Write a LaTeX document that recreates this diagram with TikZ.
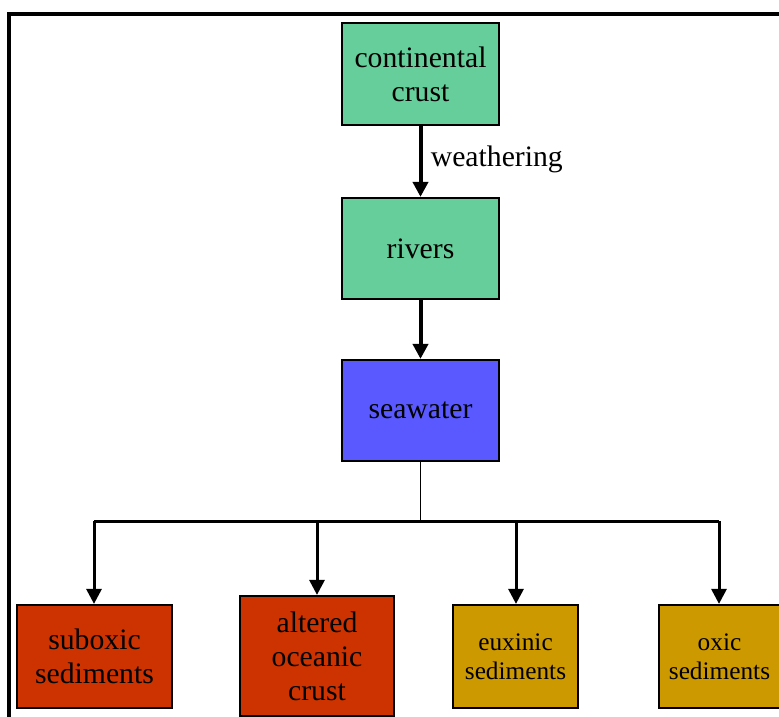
\documentclass[tikz,border=0pt]{standalone}
\usepackage{fontspec}
\setmainfont{Liberation Serif}
\usetikzlibrary{arrows.meta}
\definecolor{cgreen}{RGB}{102,206,154}
\definecolor{cblue}{RGB}{89,89,255}
\definecolor{cred}{RGB}{204,51,0}
\definecolor{cgold}{RGB}{204,153,0}
\tikzset{
  boxa/.style={draw=black, line width=2.2pt, inner sep=0pt, align=center,
    font=\fontsize{29.7pt}{34pt}\selectfont},
  boxb/.style={boxa, font=\fontsize{25.3pt}{28.5pt}\selectfont},
  tip/.style={-{Triangle[length=15pt,width=15pt]}},
  flow/.style={line width=4pt, tip},
  bus/.style={line width=3pt},
}
\begin{document}
\begin{tikzpicture}[x=1pt,y=-1pt]
\useasboundingbox (0,0) rectangle (779,717);
\draw[line width=3.5pt] (9,717) -- (9,14) -- (779,14);
\node[boxa, fill=cgreen, minimum width=157pt, minimum height=102pt] (cc) at (420.5,74) {continental\\crust};
\node[boxa, fill=cgreen, minimum width=157pt, minimum height=101pt] (rv) at (420.5,248.5) {rivers};
\node[boxa, fill=cblue, minimum width=157pt, minimum height=101pt] (sw) at (420.5,410.5) {seawater};
\node[boxa, fill=cred, minimum width=155pt, minimum height=103pt] (sub) at (94.5,656.5) {suboxic\\sediments};
\node[boxa, fill=cred, minimum width=154pt, minimum height=120pt] (alt) at (317,656) {altered\\oceanic\\crust};
\node[boxb, fill=cgold, minimum width=125pt, minimum height=103pt] (eux) at (515.5,656.5) {euxinic\\sediments};
\node[boxb, fill=cgold, minimum width=121pt, minimum height=103pt] (oxi) at (719.5,656.5) {oxic\\sediments};
\draw[flow] (cc) -- node[right, xshift=5pt, yshift=2pt, font=\fontsize{29.7pt}{34pt}\selectfont] {weathering} (rv);
\draw[flow] (rv) -- (sw);
\coordinate (j) at (420.5,521);
\coordinate (b1) at (94,521);
\coordinate (b2) at (317,521);
\coordinate (b3) at (516,521);
\coordinate (b4) at (719,521);
\draw[line width=1.6pt] (sw.south) -- (j);
\draw[bus] (b1) -- (b4);
\draw[bus, tip] (b1) -- (b1 |- sub.north);
\draw[bus, tip] (b2) -- (b2 |- alt.north);
\draw[bus, tip] (b3) -- (b3 |- eux.north);
\draw[bus, tip] (b4) -- (b4 |- oxi.north);
\end{tikzpicture}
\end{document}
